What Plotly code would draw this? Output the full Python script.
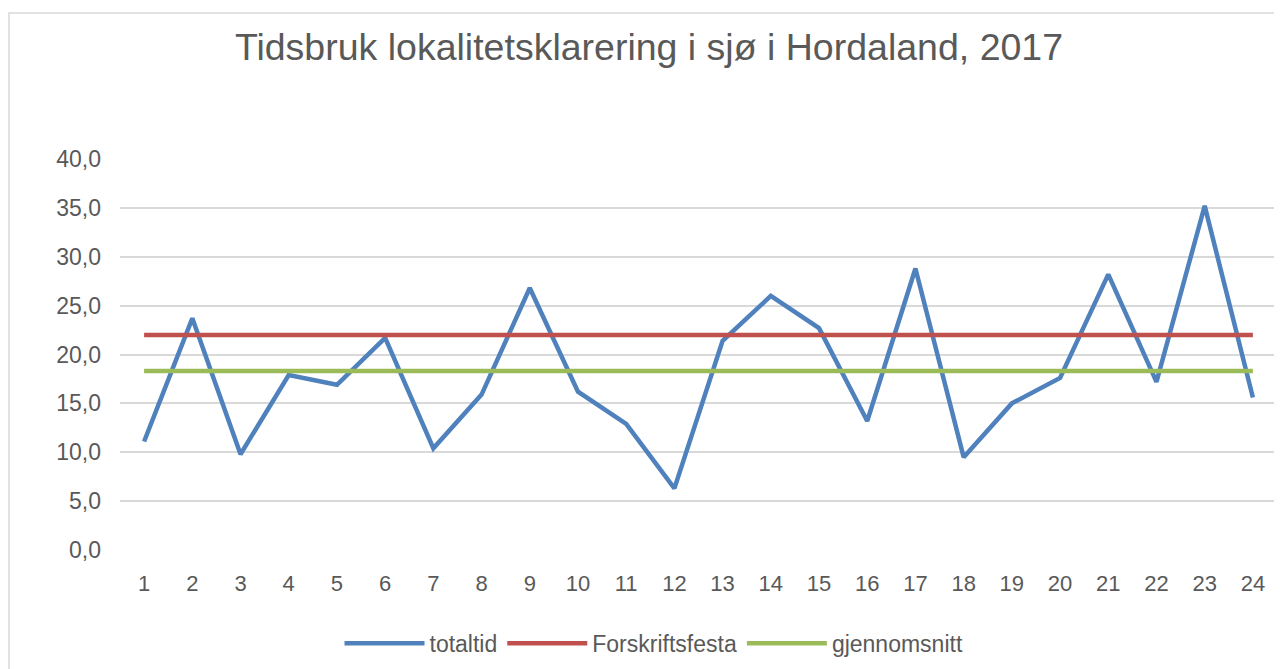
import plotly.graph_objects as go

categories = [str(i) for i in range(1, 25)]
totaltid = [11.1, 23.7, 9.8, 17.9, 16.9, 21.7, 10.4, 15.9, 26.8, 16.2, 12.9, 6.3,
            21.4, 26.0, 22.7, 13.2, 28.8, 9.5, 15.0, 17.6, 28.2, 17.2, 35.2, 15.6]
forskrift = [22.0] * 24
gjennomsnitt = [18.3] * 24
y_ticks = [0, 5, 10, 15, 20, 25, 30, 35, 40]

# page body has an 8px margin, so figure coordinates = screen - 8
W, H = 1282, 669
L, R, T, B = 112, 13, 151, 124
pw, ph = W - L - R, H - T - B

text_color = "#595959"
font_family = "Liberation Sans, Arial, sans-serif"

xs = list(range(1, 25))
fig = go.Figure()
fig.add_trace(go.Scatter(x=xs, y=totaltid, name="totaltid", mode="lines",
                         line=dict(color="#4F81BD", width=4.5)))
fig.add_trace(go.Scatter(x=xs, y=forskrift, name="Forskriftsfesta", mode="lines",
                         line=dict(color="#C0504D", width=4.5)))
fig.add_trace(go.Scatter(x=xs, y=gjennomsnitt, name="gjennomsnitt", mode="lines",
                         line=dict(color="#9BBB59", width=4.5)))


def px_x(p):
    return (p - L) / pw


def px_y(p):
    return (H - B - p) / ph


# outer chart frame
fig.add_shape(type="rect", xref="paper", yref="paper",
              x0=px_x(1), x1=px_x(1300), y0=px_y(700), y1=px_y(4),
              line=dict(color="#D9D9D9", width=1.5), fillcolor="rgba(0,0,0,0)", layer="below")

fig.update_layout(
    width=W, height=H,
    margin=dict(l=L, r=R, t=T, b=B),
    paper_bgcolor="white", plot_bgcolor="white",
    title=dict(text="Tidsbruk lokalitetsklarering i sjø i Hordaland, 2017",
               x=641 / W, xanchor="center", y=1 - 39 / H, yanchor="middle",
               font=dict(family=font_family, size=37.5, color=text_color)),
    font=dict(family=font_family, color=text_color),
    xaxis=dict(range=[0.5, 24.5], tickmode="array", tickvals=xs,
               ticktext=categories, showgrid=False, zeroline=False, showline=False,
               ticks="", tickfont=dict(size=22, color=text_color), ticklabelstandoff=18),
    yaxis=dict(range=[0, 40], tickmode="array", tickvals=y_ticks,
               ticktext=[f"{v:.1f}".replace(".", ",") for v in y_ticks],
               showgrid=True, gridcolor="#D9D9D9", gridwidth=1.5, zeroline=False,
               showline=False, ticks="", tickfont=dict(size=23, color=text_color),
               ticklabelstandoff=18),
    legend=dict(orientation="h", x=px_x(646), xanchor="center",
                y=px_y(639), yanchor="middle", font=dict(size=23, color=text_color),
                itemwidth=80),
    showlegend=True,
)

fig.write_html("out.html")
